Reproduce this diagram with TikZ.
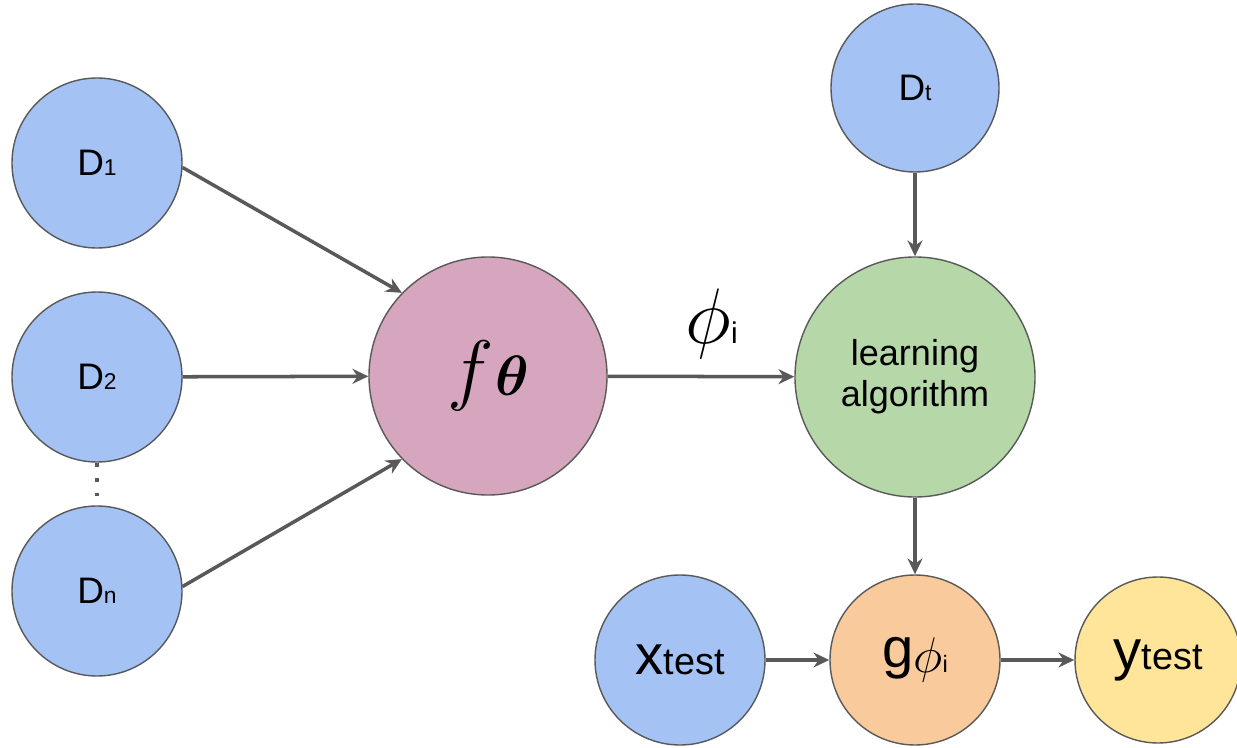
\documentclass[tikz,border=0pt]{standalone}
\usepackage{amsmath,bm}
\usepackage{fontspec}
\setmainfont{Liberation Sans}
\usetikzlibrary{arrows.meta}

\definecolor{edgegray}{HTML}{595959}
\definecolor{setblue}{HTML}{A4C2F4}
\definecolor{netpink}{HTML}{D5A6BD}
\definecolor{algogreen}{HTML}{B6D7A8}
\definecolor{modelorange}{HTML}{F9CB9C}
\definecolor{outyellow}{HTML}{FFE599}

\newcommand\dset[1]{{\fontsize{21}{24}\selectfont D}{\fontsize{13}{15}\selectfont #1}}
\newcommand\tvar[1]{{\fontsize{32}{34}\selectfont #1}{\fontsize{21.5}{24}\selectfont test}}

\begin{document}
\begin{tikzpicture}[>={Stealth[length=9pt,width=8.5pt]},
  bubble/.style={circle,draw=edgegray,line width=0.8pt,inner sep=0pt},
  conn/.style={->,draw=edgegray,line width=2pt}]
  \useasboundingbox (0,0) rectangle (24.74,-14.96);
  \node[bubble,fill=setblue,minimum size=3.4cm] at (1.94,-3.26) (d1) {\dset{1}};
  \node[bubble,fill=setblue,minimum size=3.4cm] at (1.94,-7.54) (d2) {\dset{2}};
  \node[bubble,fill=setblue,minimum size=3.4cm] at (1.94,-11.82) (dn) {\dset{n}};
  \node[bubble,fill=netpink,minimum size=4.76cm] at (9.76,-7.52) (f)
    {\scalebox{1.8}{\fontsize{24.88}{26}\selectfont$f$}\hspace{1pt}\scalebox{1.3}{\fontsize{24.88}{26}\selectfont$\bm{\theta}$}};
  \node[bubble,fill=algogreen,minimum size=4.8cm,align=center,
    font=\fontsize{20.5}{23.5}\selectfont] at (18.30,-7.54) (la) {learning\\algorithm};
  \node[bubble,fill=setblue,minimum size=3.36cm] at (18.30,-1.76) (dt) {\dset{t}};
  \node[bubble,fill=modelorange,minimum size=3.4cm] at (18.30,-13.20) (g)
    {{\fontsize{32}{34}\selectfont g}\raisebox{-3pt}{\scalebox{1.65}{\fontsize{17.28}{19}\selectfont$\phi$}{\fontsize{13.5}{15}\selectfont i}}};
  \node[bubble,fill=setblue,minimum size=3.4cm] at (13.60,-13.20) (xt) {\tvar{x}};
  \node[bubble,fill=outyellow,minimum size=3.32cm] at (23.16,-13.20) (yt) {\tvar{y}};
  \draw[conn] (d1.-3) -- (f.136);
  \draw[conn] (d2) -- (f);
  \draw[conn] (dn.3) -- (f.224);
  \draw[edgegray,line width=2.2pt,dash pattern=on 2.2pt off 6.3pt] (d2.south) -- (dn.north);
  \draw[conn] (f) -- node[above=9pt,xshift=6pt,inner sep=0pt] (phi)
    {\scalebox{1.8}{\fontsize{24.88}{26}\selectfont$\phi$}{\fontsize{17}{19}\selectfont i}} (la);
  \draw[conn] (dt) -- (la);
  \draw[conn] (la) -- (g);
  \draw[conn] (xt) -- (g);
  \draw[conn] (g) -- (yt);
\end{tikzpicture}
\end{document}
